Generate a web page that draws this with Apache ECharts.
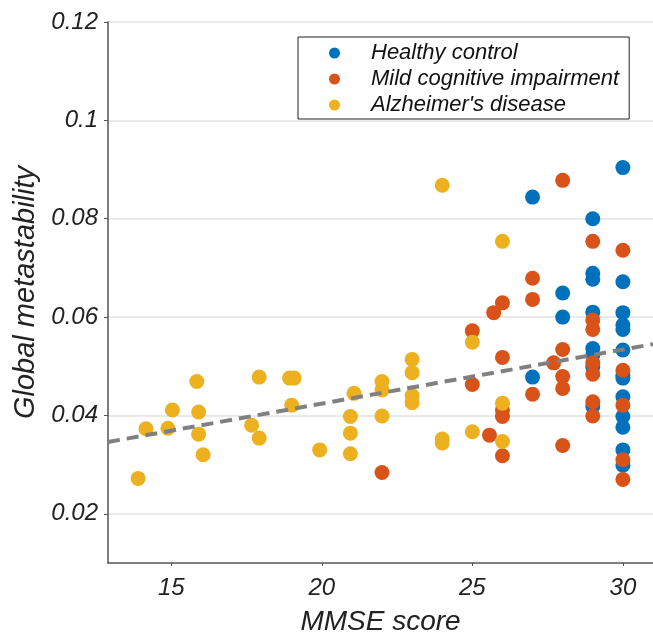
<!DOCTYPE html>
<html><head><meta charset="utf-8">
<script src="https://cdn.jsdelivr.net/npm/echarts@6/dist/echarts.min.js"></script>
<style>html,body{margin:0;padding:0;background:#fff}#c{width:653px;height:638px}</style>
</head><body><div id="c"></div>
<script>
const seriesNames = ['Healthy control', 'Mild cognitive impairment', "Alzheimer's disease"];
const seriesColors = ['#0072BD', '#D95319', '#EDB120'];

const hcMMSE = [27,27,28,28,29,29,29,29,29,29,29,29,30,30,30,30,30,30,30,30,30,30,30,30,30];
const hcMeta = [0.0844,0.0478,0.0649,0.0600,0.0800,0.0689,0.0677,0.0610,0.0536,0.0523,0.0499,0.0418,
  0.0904,0.0672,0.0609,0.0584,0.0575,0.0533,0.0482,0.0476,0.0438,0.0398,0.0376,0.0330,0.0299];

const mciMMSE = [22,25,25,25.57,25.71,26,26,26,26,26,27,27,27,27.70,28,28,28,28,28,29,29,29,29,29,29,29,30,30,30,30,30];
const mciMeta = [0.0284,0.0572,0.0463,0.0360,0.0609,0.0629,0.0518,0.0411,0.0398,0.0318,0.0679,0.0636,0.0443,0.0507,
  0.0878,0.0534,0.0479,0.0455,0.0339,0.0754,0.0594,0.0575,0.0507,0.0484,0.0428,0.0399,0.0736,0.0492,0.0421,0.0310,0.0270];

const adMMSE = [13.90,14.16,14.89,15.04,15.85,15.91,15.91,16.06,17.67,17.92,17.92,18.93,19.08,19.00,19.93,
  20.95,20.95,20.95,21.07,22,22,22,23,23,23,23,24,24,24,25,25,26,26,26];
const adMeta = [0.0272,0.0373,0.0374,0.0411,0.0469,0.0407,0.0362,0.0320,0.0380,0.0478,0.0354,0.0476,0.0476,0.0421,0.0330,
  0.0398,0.0364,0.0322,0.0445,0.0469,0.0452,0.0399,0.0514,0.0487,0.0440,0.0426,0.0868,0.0352,0.0344,0.0549,0.0367,0.0754,0.0425,0.0347];

const trendMMSE = [12.9, 31];
const trendMeta = [0.0346, 0.0545];

const xTickLabels = [15, 20, 25, 30];
const yTickLabels = [0.02, 0.04, 0.06, 0.08, 0.1, 0.12];

function pairs(xs, ys) { return xs.map((x, i) => [x, ys[i]]); }

const FONT = '"Liberation Sans", Arial, sans-serif';
const chart = echarts.init(document.getElementById('c'), null, {renderer: 'canvas'});

const groups = [[hcMMSE, hcMeta], [mciMMSE, mciMeta], [adMMSE, adMeta]];
const scatterSeries = groups.map((g, i) => ({
  name: seriesNames[i],
  type: 'scatter',
  data: pairs(g[0], g[1]),
  symbol: 'circle',
  symbolSize: 15,
  itemStyle: {color: seriesColors[i], opacity: 1},
  z: 2 + i,
  silent: true
}));

chart.setOption({
  animation: false,
  backgroundColor: '#fff',
  grid: {left: 108, right: 0, top: 22, bottom: 75, containLabel: false, outerBoundsMode: 'none'},
  legend: {
    data: seriesNames,
    orient: 'vertical',
    left: 298, top: 37,
    padding: [5, 10, 3, 31],
    itemGap: 4,
    itemWidth: 11, itemHeight: 11,
    icon: 'circle',
    borderColor: '#222', borderWidth: 1,
    backgroundColor: '#fff',
    formatter: n => '{g| }' + n,
    textStyle: {
      fontFamily: FONT, fontStyle: 'italic', fontSize: 22, color: '#111', lineHeight: 22,
      rich: {g: {width: 26}}
    },
    selectedMode: false
  },
  xAxis: {
    type: 'value', min: 12.9, max: 31, minInterval: 5, maxInterval: 5,
    name: 'MMSE score', nameLocation: 'middle', nameGap: 45,
    nameTextStyle: {fontFamily: FONT, fontStyle: 'italic', fontSize: 28, color: '#222'},
    axisLine: {show: true, lineStyle: {color: '#555', width: 1.5}},
    axisTick: {show: true, length: 3, lineStyle: {color: '#555'},
      customValues: xTickLabels},
    axisLabel: {
      fontFamily: FONT, fontStyle: 'italic', fontSize: 24, color: '#222', margin: 13,
      customValues: xTickLabels,
      formatter: v => (xTickLabels.some(t => Math.abs(t - v) < 1e-6) ? String(v) : '')
    },
    splitLine: {show: false}
  },
  yAxis: {
    type: 'value', min: 0.01, max: 0.12, minInterval: 0.02, maxInterval: 0.02,
    name: 'Global metastability', nameLocation: 'middle', nameGap: 68,
    nameTextStyle: {fontFamily: FONT, fontStyle: 'italic', fontSize: 29, color: '#222'},
    axisLine: {show: true, lineStyle: {color: '#555', width: 1.5}},
    axisTick: {show: true, length: 4, lineStyle: {color: '#555'}, customValues: yTickLabels},
    axisLabel: {
      fontFamily: FONT, fontStyle: 'italic', fontSize: 24, color: '#222', margin: 10,
      customValues: yTickLabels,
      formatter: v => (yTickLabels.some(t => Math.abs(t - v) < 1e-9) ? String(+(+v).toFixed(2)) : '')
    },
    splitLine: {show: true, lineStyle: {color: '#e3e3e3', width: 1.5}}
  },
  series: scatterSeries.concat([{
    name: 'trend',
    type: 'line',
    data: pairs(trendMMSE, trendMeta),
    showSymbol: false,
    symbol: 'none',
    lineStyle: {color: '#808080', width: 4, type: [12, 7]},
    z: 10,
    silent: true
  }])
});
</script></body></html>
